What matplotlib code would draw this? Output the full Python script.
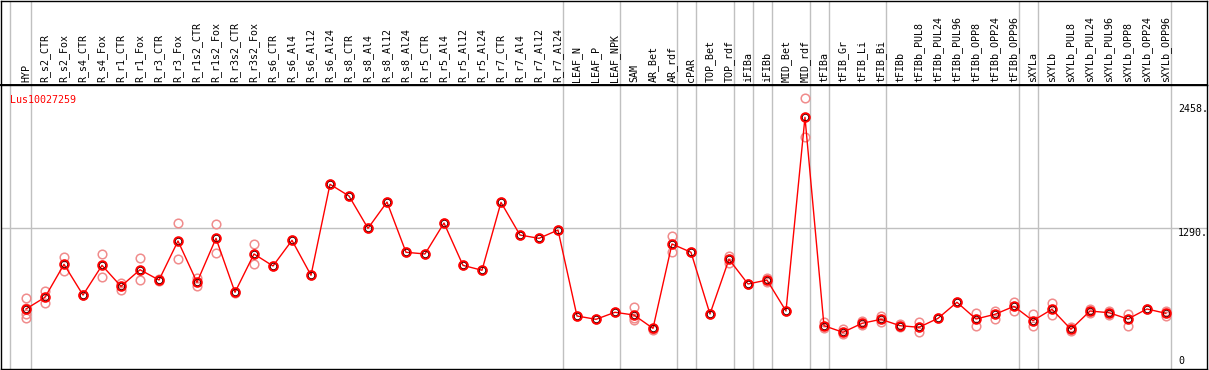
import numpy as np
import matplotlib
matplotlib.use('Agg')
import matplotlib.pyplot as plt
import matplotlib.transforms as mtransforms

# sample names (header)
samples = ['HYP', 'R_s2_CTR', 'R_s2_Fox', 'R_s4_CTR', 'R_s4_Fox', 'R_r1_CTR', 'R_r1_Fox',
           'R_r3_CTR', 'R_r3_Fox', 'R_r1s2_CTR', 'R_r1s2_Fox', 'R_r3s2_CTR', 'R_r3s2_Fox',
           'R_s6_CTR', 'R_s6_Al4', 'R_s6_Al12', 'R_s6_Al24', 'R_s8_CTR', 'R_s8_Al4',
           'R_s8_Al12', 'R_s8_Al24', 'R_r5_CTR', 'R_r5_Al4', 'R_r5_Al12', 'R_r5_Al24',
           'R_r7_CTR', 'R_r7_Al4', 'R_r7_Al12', 'R_r7_Al24', 'LEAF_N', 'LEAF_P', 'LEAF_NPK',
           'SAM', 'AR_Bet', 'AR_rdf', 'cPAR', 'TOP_Bet', 'TOP_rdf', 'iFIBa', 'iFIBb',
           'MID_Bet', 'MID_rdf', 'tFIBa', 'tFIB_Gr', 'tFIB_Li', 'tFIB_Bi', 'tFIBb',
           'tFIBb_PUL8', 'tFIBb_PUL24', 'tFIBb_PUL96', 'tFIBb_OPP8', 'tFIBb_OPP24',
           'tFIBb_OPP96', 'sXYLa', 'sXYLb', 'sXYLb_PUL8', 'sXYLb_PUL24', 'sXYLb_PUL96',
           'sXYLb_OPP8', 'sXYLb_OPP24', 'sXYLb_OPP96']

# mean expression per sample
means = [532, 642, 952, 663, 942, 745, 901, 804, 1171, 783, 1196, 689, 1049,
         936, 1177, 849, 1704, 1594, 1290, 1537, 1065, 1049, 1340, 942, 896,
         1534, 1227, 1196, 1274, 466, 435, 501,
         475, 350, 1143, 1065, 485, 999, 767, 804, 513, 2333,
         375, 313, 397, 435, 375, 360, 444, 595, 438, 482, 557,
         422, 529, 341, 513, 497, 438, 532, 491]

# replicate values per sample
replicates = [[635, 541, 485, 447], [704, 591], [1018, 886], [660, 668], [1046, 830],
              [779, 713], [1008, 802], [795, 812], [1337, 999], [820, 748], [1328, 1055],
              [685, 693], [1140, 952],
              [936], [1177], [849], [1704], [1594], [1290], [1537], [1065], [1049], [1340],
              [942], [896], [1534], [1227], [1196], [1274], [466], [435], [501],
              [548, 445, 432], [335, 345], [1218, 1070], [1065], [485], [1033, 967],
              [770, 765], [820, 788], [513], [2512, 2145],
              [412, 350], [341, 297], [422, 381], [469, 407], [391, 359], [407, 313],
              [444], [595], [491, 372], [516, 441], [600, 516],
              [482, 375], [585, 473], [360, 328], [529, 497], [516, 478], [485, 372],
              [532], [516, 466]]

# last index of each sample group (vertical separators)
group_ends = [-1.08, 0, 28, 31, 34, 35, 37, 38, 39, 41, 42, 45, 52, 53, 60]

y_ticks = [0, 1290, 2458]
gene = 'Lus10027259'

W, H = 1209, 370
fig = plt.figure(figsize=(W / 100, H / 100), dpi=100)
plt.rcParams['font.family'] = ['DejaVu Sans Mono']

top_px = 85
ax = fig.add_axes([1 / W, 1 / H, 1206 / W, (369 - top_px) / H])
axh = fig.add_axes([1 / W, (H - top_px) / H, 1206 / W, (top_px - 1) / H])

x = np.arange(len(samples))
xlim = (-1.316, 62.16)
grid_c = '#c0c0c0'

for a in (ax, axh):
    a.set_xlim(*xlim)
    a.set_xticks([])
    a.set_yticks([])
    for s in a.spines.values():
        s.set_color('black')
        s.set_linewidth(1.0)
    for g in group_ends:
        a.axvline(g + 0.24, color=grid_c, lw=1.0, zorder=0)

axh.set_ylim(0, 1)
axh.spines['bottom'].set_linewidth(1.4)
for i, name in enumerate(samples):
    axh.text(i, 0.03, name, rotation=90, ha='center', va='bottom', fontsize=7.2,
             color='black')

ax.set_ylim(-32, 2637)
ax.axhline(1290, color=grid_c, lw=1.0, zorder=0)

# replicates
for i, reps in enumerate(replicates):
    ax.plot([i] * len(reps), reps, 'o', ms=6.2, mfc='none', mec='#f08c8c', mew=1.1,
            zorder=2)

ax.plot(x, means, '-', color='red', lw=1.0, zorder=3)
ax.plot(x, means, 'o', ms=4.8, mfc='none', mec='black', mew=0.8, zorder=4)
ax.plot(x, means, 'o', ms=6.2, mfc='none', mec='red', mew=1.4, zorder=5)

ax.text(-0.84, 2500, gene, color='red', fontsize=7.2, ha='left', va='center')

tx = 60.63
for t in y_ticks:
    if t == 0:
        ax.text(tx, t, '0', fontsize=7.2, ha='left', va='bottom')
    else:
        ax.text(tx, t, f'{t}.', fontsize=7.2, ha='left', va='top')

fig.savefig('out.png', dpi=100)
